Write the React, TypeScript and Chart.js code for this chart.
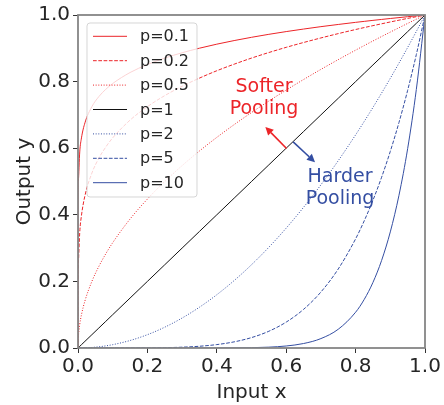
import React, { useEffect, useRef } from "react";
import { Chart, registerables } from "chart.js";

Chart.register(...registerables);

const xs = [0, 0.0001, 0.001, 0.005, 0.01, 0.02, 0.04, 0.06, 0.08, 0.1, 0.15, 0.2, 0.25, 0.3, 0.35, 0.4, 0.45, 0.5, 0.55, 0.6, 0.65, 0.7, 0.75, 0.8, 0.825, 0.85, 0.875, 0.9, 0.925, 0.95, 0.975, 1.0];

const yP01 = [0, 0.3981, 0.5012, 0.5887, 0.631, 0.6762, 0.7248, 0.7548, 0.7768, 0.7943, 0.8272, 0.8513, 0.8706, 0.8866, 0.9003, 0.9124, 0.9232, 0.933, 0.942, 0.9502, 0.9578, 0.965, 0.9716, 0.9779, 0.9809, 0.9839, 0.9867, 0.9895, 0.9922, 0.9949, 0.9975, 1];
const yP02 = [0, 0.1585, 0.2512, 0.3466, 0.3981, 0.4573, 0.5253, 0.5697, 0.6034, 0.631, 0.6843, 0.7248, 0.7579, 0.786, 0.8105, 0.8326, 0.8523, 0.8706, 0.8873, 0.9029, 0.9174, 0.9311, 0.9441, 0.9564, 0.9623, 0.968, 0.9736, 0.9791, 0.9845, 0.9898, 0.9949, 1];
const yP05 = [0, 0.01, 0.0316, 0.0707, 0.1, 0.1414, 0.2, 0.2449, 0.2828, 0.3162, 0.3873, 0.4472, 0.5, 0.5477, 0.5916, 0.6325, 0.6708, 0.7071, 0.7416, 0.7746, 0.8062, 0.8367, 0.866, 0.8944, 0.9083, 0.922, 0.9354, 0.9487, 0.9618, 0.9747, 0.9874, 1];
const yP1 = [0, 0.0001, 0.001, 0.005, 0.01, 0.02, 0.04, 0.06, 0.08, 0.1, 0.15, 0.2, 0.25, 0.3, 0.35, 0.4, 0.45, 0.5, 0.55, 0.6, 0.65, 0.7, 0.75, 0.8, 0.825, 0.85, 0.875, 0.9, 0.925, 0.95, 0.975, 1];
const yP2 = [0, 0, 0, 0.000025, 0.0001, 0.0004, 0.0016, 0.0036, 0.0064, 0.01, 0.0225, 0.04, 0.0625, 0.09, 0.1225, 0.16, 0.2025, 0.25, 0.3025, 0.36, 0.4225, 0.49, 0.5625, 0.64, 0.6806, 0.7225, 0.7656, 0.81, 0.8556, 0.9025, 0.9506, 1];
const yP5 = [0, 0, 0, 0, 0, 0, 0, 0, 0, 0.00001, 0.0000759, 0.00032, 0.000977, 0.00243, 0.00525, 0.01024, 0.01845, 0.03125, 0.05033, 0.07776, 0.116, 0.1681, 0.2373, 0.3277, 0.3822, 0.4437, 0.5129, 0.5905, 0.6772, 0.7738, 0.8811, 1];
const yP10 = [0, 0, 0, 0, 0, 0, 0, 0, 0, 0, 0, 0, 0, 0.0000059, 0.0000276, 0.000105, 0.00034, 0.000977, 0.00253, 0.00605, 0.01346, 0.02825, 0.05631, 0.1074, 0.1461, 0.1969, 0.2631, 0.3487, 0.4586, 0.5987, 0.7763, 1];

const seriesLabels = ["p=0.1", "p=0.2", "p=0.5", "p=1", "p=2", "p=5", "p=10"];
const seriesValues = [yP01, yP02, yP05, yP1, yP2, yP5, yP10];

const RED = "rgb(236,36,40)";
const BLUE = "rgb(52,78,162)";
const BLACK = "#111111";
const DOTTED = [1, 1.65];
const DASHED = [3.7, 1.6];
const seriesColors = [RED, RED, RED, BLACK, BLUE, BLUE, BLUE];
const seriesDash: number[][] = [[], DASHED, DOTTED, [], DOTTED, DASHED, []];

const FONT = "'DejaVu Sans', sans-serif";
const TEXT = "#262626";

const annotationPlugin = {
  id: "annot",
  afterDatasetsDraw(chart: any) {
    const ctx = chart.ctx;
    const xs_ = chart.scales.x;
    const ys_ = chart.scales.y;
    const a = chart.chartArea;
    ctx.save();
    // spines
    ctx.strokeStyle = "#858585";
    ctx.lineWidth = 1.8;
    ctx.strokeRect(a.left, a.top, a.right - a.left, a.bottom - a.top);

    const px = (v: number) => xs_.getPixelForValue(v);
    const py = (v: number) => ys_.getPixelForValue(v);
    const arrow = (x0: number, y0: number, x1: number, y1: number, col: string) => {
      const X0 = px(x0), Y0 = py(y0), X1 = px(x1), Y1 = py(y1);
      const ang = Math.atan2(Y1 - Y0, X1 - X0);
      const hl = 8, hw = 4;
      const bx = X1 - hl * Math.cos(ang), by = Y1 - hl * Math.sin(ang);
      ctx.strokeStyle = col;
      ctx.fillStyle = col;
      ctx.lineWidth = 1.6;
      ctx.beginPath();
      ctx.moveTo(X0, Y0);
      ctx.lineTo(bx, by);
      ctx.stroke();
      ctx.beginPath();
      ctx.moveTo(X1, Y1);
      ctx.lineTo(bx + hw * Math.sin(ang), by - hw * Math.cos(ang));
      ctx.lineTo(bx - hw * Math.sin(ang), by + hw * Math.cos(ang));
      ctx.closePath();
      ctx.fill();
    };
    arrow(0.601, 0.599, 0.54, 0.664, RED);
    arrow(0.62, 0.619, 0.683, 0.558, BLUE);

    ctx.font = `19px ${FONT}`;
    ctx.textAlign = "center";
    ctx.textBaseline = "middle";
    ctx.fillStyle = RED;
    ctx.fillText("Softer", px(0.536), py(0.783));
    ctx.fillText("Pooling", px(0.536), py(0.717));
    ctx.fillStyle = BLUE;
    ctx.fillText("Harder", px(0.755), py(0.512));
    ctx.fillText("Pooling", px(0.755), py(0.446));

    // legend
    const lx = a.left + 9, ly = a.top + 8, lw = 110, lh = 174;
    ctx.beginPath();
    const r = 3;
    ctx.moveTo(lx + r, ly);
    ctx.arcTo(lx + lw, ly, lx + lw, ly + lh, r);
    ctx.arcTo(lx + lw, ly + lh, lx, ly + lh, r);
    ctx.arcTo(lx, ly + lh, lx, ly, r);
    ctx.arcTo(lx, ly, lx + lw, ly, r);
    ctx.closePath();
    ctx.fillStyle = "rgba(255,255,255,0.8)";
    ctx.fill();
    ctx.strokeStyle = "rgba(204,204,204,0.8)";
    ctx.lineWidth = 1;
    ctx.stroke();
    ctx.font = `16px ${FONT}`;
    ctx.textAlign = "left";
    ctx.textBaseline = "middle";
    seriesLabels.forEach((lab, i) => {
      const yy = a.top + 21.3 + i * 24.4;
      ctx.strokeStyle = seriesColors[i];
      ctx.lineWidth = 1;
      ctx.setLineDash(seriesDash[i]);
      ctx.beginPath();
      ctx.moveTo(lx + 6, yy);
      ctx.lineTo(lx + 40, yy);
      ctx.stroke();
      ctx.setLineDash([]);
      ctx.fillStyle = TEXT;
      ctx.fillText(lab, lx + 53, yy + 1);
    });
    ctx.restore();
  },
};

export default function App() {
  const ref = useRef<HTMLCanvasElement | null>(null);
  useEffect(() => {
    document.body.style.margin = "0";
    if (!ref.current) return;
    const datasets = seriesLabels.map((lab, i) => ({
      label: lab,
      data: xs.map((x, j) => ({ x, y: seriesValues[i][j] })),
      borderColor: seriesColors[i],
      borderDash: seriesDash[i],
      borderWidth: 1,
      pointRadius: 0,
      fill: false,
      cubicInterpolationMode: "monotone" as const,
    }));
    const tickFont = { family: FONT, size: 20 };
    const chart = new Chart(ref.current, {
      type: "line",
      data: { datasets },
      options: {
        animation: false,
        responsive: false,
        layout: { padding: { top: 12, right: 19, left: 0, bottom: 0 } },
        plugins: { legend: { display: false }, tooltip: { enabled: false } },
        scales: {
          x: {
            type: "linear",
            min: 0,
            max: 1,
            ticks: { stepSize: 0.2, color: TEXT, font: tickFont, padding: 2, maxRotation: 0, callback: (v: any) => Number(v).toFixed(1) },
            grid: { display: true, drawOnChartArea: false, drawTicks: true, tickLength: 5, color: "#333" },
            border: { display: false },
            title: { display: true, text: "Input x", color: TEXT, font: { family: FONT, size: 20 }, padding: { top: 2, bottom: 0 } },
            afterFit: (s: any) => { s.height = 57; },
          },
          y: {
            type: "linear",
            min: 0,
            max: 1,
            ticks: { stepSize: 0.2, color: TEXT, font: tickFont, padding: 3, callback: (v: any) => Number(v).toFixed(1) },
            grid: { display: true, drawOnChartArea: false, drawTicks: true, tickLength: 5, color: "#333" },
            border: { display: false },
            title: { display: true, text: "Output y", color: TEXT, font: { family: FONT, size: 20 }, padding: { top: 13, bottom: 4 } },
            afterFit: (s: any) => { s.width = 78; },
          },
        },
      },
      plugins: [annotationPlugin],
    });
    return () => chart.destroy();
  }, []);
  return (
    <div style={{ width: 444, height: 405, background: "#fff" }}>
      <canvas ref={ref} width={444} height={405} style={{ display: "block" }} />
    </div>
  );
}
